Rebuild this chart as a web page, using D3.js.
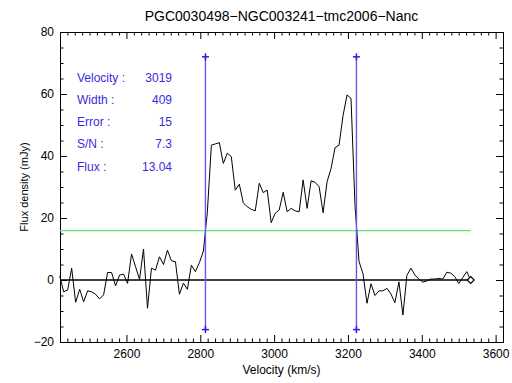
<!DOCTYPE html>
<html>
<head>
<meta charset="utf-8">
<script src="https://cdn.jsdelivr.net/npm/d3@7"></script>
<style>
  html, body { margin: 0; padding: 0; background: #fff; }
  svg { display: block; }
  text { font-family: "Liberation Sans", Arial, sans-serif; }
</style>
</head>
<body>
<script>
// ---------------- data ----------------
const title = "PGC0030498\u2212NGC003241\u2212tmc2006\u2212Nanc";
const xLabel = "Velocity (km/s)";
const yLabel = "Flux density (mJy)";

const velocity = [
  2419.2, 2430.0, 2440.8, 2451.6, 2462.4, 2473.3, 2484.1, 2494.9, 2505.7, 2516.5,
  2527.3, 2538.1, 2548.9, 2559.7, 2570.5, 2581.4, 2592.2, 2603.0, 2613.8, 2624.6,
  2635.4, 2646.2, 2657.0, 2667.8, 2678.6, 2689.5, 2700.3, 2711.1, 2721.9, 2732.7,
  2743.5, 2754.3, 2765.1, 2775.9, 2786.7, 2797.6, 2808.4, 2819.2, 2830.0, 2840.8,
  2851.6, 2862.4, 2873.2, 2884.0, 2894.8, 2905.7, 2916.5, 2927.3, 2938.1, 2948.9,
  2959.7, 2970.5, 2981.3, 2992.1, 3002.9, 3013.8, 3024.6, 3035.4, 3046.2, 3057.0,
  3067.8, 3078.6, 3089.4, 3100.2, 3111.0, 3121.9, 3132.7, 3143.5, 3154.3, 3165.1,
  3175.9, 3186.7, 3197.5, 3208.3, 3219.1, 3230.0, 3240.8, 3251.6, 3262.4, 3273.2,
  3284.0, 3294.8, 3305.6, 3316.4, 3327.2, 3338.1, 3348.9, 3359.7, 3370.5, 3381.3,
  3392.1, 3402.9, 3413.7, 3424.5, 3435.3, 3446.2, 3457.0, 3467.8, 3478.6, 3489.4,
  3500.2, 3511.0, 3521.8, 3532.6
];
const flux = [
  1.3, -3.8, -3.2, 3.8, -7.2, -3.0, -7.0, -3.5, -3.8, -4.6,
  -6.1, -4.8, 2.4, 2.4, -1.9, 1.6, 1.9, -1.1, 8.4, 4.3,
  0.2, 10.0, -9.1, 3.8, 3.2, 7.5, 5.0, 9.6, 6.2, 5.9,
  -4.6, -1.0, -3.0, 4.8, 2.7, 5.6, 9.3, 22.0, 43.5, 43.9,
  44.3, 37.6, 40.9, 39.8, 29.0, 30.9, 24.9, 23.6, 22.8, 22.3,
  31.2, 28.2, 29.0, 18.5, 21.5, 22.6, 28.3, 22.0, 23.1, 22.3,
  22.0, 32.3, 23.1, 32.0, 31.5, 30.1, 21.7, 31.7, 36.0, 42.7,
  43.5, 53.0, 59.7, 58.6, 24.0, 6.0, 2.0, -7.5, -1.2, -5.0,
  -3.5, -3.5, -2.7, -4.5, -7.3, -0.6, -11.3, 1.5, 3.8, 1.6,
  0.3, -0.7, -0.3, 0.3, 0.3, 0.5, 0.3, 2.5, 2.2, 1.1,
  -1.1, 0.8, 2.7, 0.0
];

const xDomain = [2420, 3620];
const yDomain = [-20, 80];
const xMajorTicks = [2600, 2800, 3000, 3200, 3400, 3600];
const yMajorTicks = [-20, 0, 20, 40, 60, 80];
const xMinorStep = 20;
const yMinorStep = 5;

const edgeVelocities = [2814, 3223];   // line width limits
const edgeRange = [-16, 72];           // vertical extent of limit markers
const thresholdLevel = 15.9;           // green level

const statLabels = ["Velocity :", "Width :", "Error :", "S/N :", "Flux :"];
const statValues = ["3019", "409", "15", "7.3", "13.04"];

// ---------------- layout ----------------
const W = 512, H = 383;
const M = { left: 60, right: 503, top: 32, bottom: 342 };
const blue = "#2a1ee0";
const labelBlue = "#3b2be0";

const svg = d3.select("body").append("svg").attr("width", W).attr("height", H);

const x = d3.scaleLinear().domain(xDomain).range([M.left, M.right]);
const y = d3.scaleLinear().domain(yDomain).range([M.bottom, M.top]);

function minorTicks(domain, step, majors) {
  const out = [];
  for (let v = Math.ceil(domain[0] / step) * step; v <= domain[1] + 1e-9; v += step) {
    if (!majors.includes(v)) out.push(v);
  }
  return out;
}
const xMinor = minorTicks(xDomain, xMinorStep, xMajorTicks);
const yMinor = minorTicks(yDomain, yMinorStep, yMajorTicks);

function styleAxis(g) {
  g.select(".domain").remove();
  g.selectAll("line").attr("stroke", "#000").attr("stroke-width", 1);
  g.selectAll("text").attr("fill", "#000").attr("font-size", 12);
}
// bottom
svg.append("g").attr("transform", `translate(0,${M.bottom})`)
  .call(d3.axisBottom(x).tickValues(xMajorTicks).tickSize(-7).tickPadding(7.5).tickFormat(d3.format("d")))
  .call(styleAxis);
svg.append("g").attr("transform", `translate(0,${M.bottom})`)
  .call(d3.axisBottom(x).tickValues(xMinor).tickSize(-3.5).tickFormat(""))
  .call(styleAxis);
// top
svg.append("g").attr("transform", `translate(0,${M.top})`)
  .call(d3.axisTop(x).tickValues(xMajorTicks).tickSize(-7).tickFormat(""))
  .call(styleAxis);
svg.append("g").attr("transform", `translate(0,${M.top})`)
  .call(d3.axisTop(x).tickValues(xMinor).tickSize(-3.5).tickFormat(""))
  .call(styleAxis);
// left
svg.append("g").attr("transform", `translate(${M.left},0)`)
  .call(d3.axisLeft(y).tickValues(yMajorTicks).tickSize(-7).tickPadding(6).tickFormat(d => d < 0 ? "\u2212" + Math.abs(d) : d))
  .call(styleAxis);
svg.append("g").attr("transform", `translate(${M.left},0)`)
  .call(d3.axisLeft(y).tickValues(yMinor).tickSize(-3.5).tickFormat(""))
  .call(styleAxis);
// right
svg.append("g").attr("transform", `translate(${M.right},0)`)
  .call(d3.axisRight(y).tickValues(yMajorTicks).tickSize(-7).tickFormat(""))
  .call(styleAxis);
svg.append("g").attr("transform", `translate(${M.right},0)`)
  .call(d3.axisRight(y).tickValues(yMinor).tickSize(-3.5).tickFormat(""))
  .call(styleAxis);

// frame
svg.append("rect")
  .attr("x", M.left + 0.5).attr("y", M.top + 0.5)
  .attr("width", M.right - M.left).attr("height", M.bottom - M.top)
  .attr("fill", "none").attr("stroke", "#000").attr("stroke-width", 1);

// green threshold line
const lastV = velocity[velocity.length - 1];
svg.append("line")
  .attr("x1", x(xDomain[0])).attr("x2", x(lastV))
  .attr("y1", y(thresholdLevel)).attr("y2", y(thresholdLevel))
  .attr("stroke", "#66e466").attr("stroke-width", 1.3);

// zero line
svg.append("line")
  .attr("x1", x(xDomain[0])).attr("x2", x(lastV))
  .attr("y1", y(0)).attr("y2", y(0))
  .attr("stroke", "#000").attr("stroke-width", 1.6);

// spectrum
const line = d3.line().x((d, i) => x(velocity[i])).y(d => y(d));
svg.append("path")
  .attr("d", line(flux))
  .attr("fill", "none").attr("stroke", "#000").attr("stroke-width", 1)
  .attr("stroke-linejoin", "miter");

// end diamond
const dx = x(lastV), dy = y(flux[flux.length - 1]);
svg.append("path")
  .attr("d", `M${dx - 3.5},${dy} L${dx},${dy - 3.5} L${dx + 3.5},${dy} L${dx},${dy + 3.5} Z`)
  .attr("fill", "#fff").attr("stroke", "#000").attr("stroke-width", 1.2);

// limit lines
edgeVelocities.forEach(v => {
  const xv = x(v);
  svg.append("line")
    .attr("x1", xv).attr("x2", xv)
    .attr("y1", y(edgeRange[0])).attr("y2", y(edgeRange[1]))
    .attr("stroke", "#6a55f2").attr("stroke-width", 1.4);
  edgeRange.forEach(r => {
    const yv = y(r);
    svg.append("line").attr("x1", xv - 3.5).attr("x2", xv + 3.5).attr("y1", yv).attr("y2", yv)
      .attr("stroke", blue).attr("stroke-width", 1.5);
    svg.append("line").attr("x1", xv).attr("x2", xv).attr("y1", yv - 3.5).attr("y2", yv + 3.5)
      .attr("stroke", blue).attr("stroke-width", 1.5);
  });
});

// statistics text
const statY0 = 77, statDY = 22.3;
statLabels.forEach((t, i) => {
  svg.append("text").attr("x", 77).attr("y", statY0 + i * statDY + 4.5)
    .attr("font-size", 12).attr("fill", labelBlue).text(t);
  svg.append("text").attr("x", 172).attr("y", statY0 + i * statDY + 4.5)
    .attr("font-size", 12).attr("fill", labelBlue).attr("text-anchor", "end").text(statValues[i]);
});

// titles
svg.append("text").attr("x", (M.left + M.right) / 2).attr("y", 21)
  .attr("text-anchor", "middle").attr("font-size", 14).attr("fill", "#000").text(title);
svg.append("text").attr("x", (M.left + M.right) / 2).attr("y", 373.5)
  .attr("text-anchor", "middle").attr("font-size", 12).attr("fill", "#000").text(xLabel);
svg.append("text")
  .attr("transform", `translate(28,${(M.top + M.bottom) / 2}) rotate(-90)`)
  .attr("text-anchor", "middle").attr("font-size", 11).attr("fill", "#000").text(yLabel);
</script>
</body>
</html>
